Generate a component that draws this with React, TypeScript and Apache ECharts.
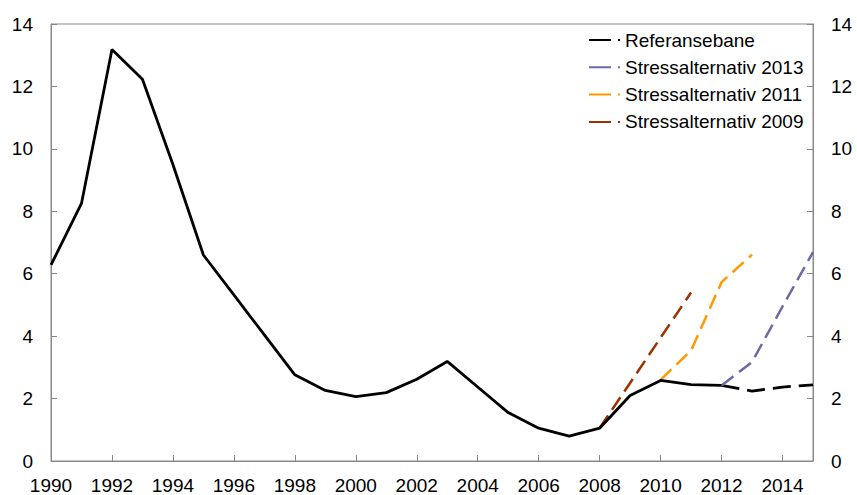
import React, { useEffect, useRef } from "react";
import * as echarts from "echarts";

const years = [
  "1990", "1991", "1992", "1993", "1994", "1995", "1996", "1997", "1998", "1999",
  "2000", "2001", "2002", "2003", "2004", "2005", "2006", "2007", "2008", "2009",
  "2010", "2011", "2012", "2013", "2014", "2015",
];

// Referansebane (historical + baseline)
const referanse = [
  6.28, 8.25, 13.18, 12.23, 9.5, 6.6, 5.32, 4.04, 2.76, 2.26,
  2.06, 2.19, 2.62, 3.19, 2.37, 1.55, 1.05, 0.8, 1.05, 2.1,
  2.58, 2.45, 2.42, 2.24, 2.37, 2.44,
];
const solidUntil = "2012";

const stress2013 = [
  null, null, null, null, null, null, null, null, null, null,
  null, null, null, null, null, null, null, null, null, null,
  null, null, 2.42, 3.17, 4.95, 6.69,
];
const stress2011 = [
  null, null, null, null, null, null, null, null, null, null,
  null, null, null, null, null, null, null, null, null, null,
  2.6, 3.54, 5.73, 6.61, null, null,
];
const stress2009 = [
  null, null, null, null, null, null, null, null, null, null,
  null, null, null, null, null, null, null, null, 1.06, 2.5,
  3.95, 5.4, null, null, null, null,
];

const yTicks = { min: 0, max: 14, interval: 2 };

const FONT = "Liberation Sans, Arial, sans-serif";
const AXIS_COLOR = "#888888";

export default function App() {
  const ref = useRef<HTMLDivElement>(null);

  useEffect(() => {
    if (!ref.current) return;
    const chart = echarts.init(ref.current, null, { renderer: "svg" });
    const cut = years.indexOf(solidUntil);
    const refSolid = referanse.map((v, i) => (i <= cut ? v : null));
    const refDashed = referanse.map((v, i) => (i >= cut ? v : null));

    const yAxisBase = (pos: "left" | "right") => ({
      type: "value",
      position: pos,
      min: yTicks.min,
      max: yTicks.max,
      interval: yTicks.interval,
      axisLine: { show: true, lineStyle: { color: AXIS_COLOR, width: 1 } },
      axisTick: { show: true, inside: true, length: 6, lineStyle: { color: AXIS_COLOR } },
      axisLabel: { color: "#000", fontSize: 19, fontFamily: FONT, margin: 18 },
      splitLine: { show: false },
    });

    const icon = "path://M0,0.5H22V2.5H0Z M29,0.5H31V2.5H29Z";

    chart.setOption({
      animation: false,
      backgroundColor: "#fff",
      textStyle: { fontFamily: FONT },
      grid: {
        left: 51,
        right: 44,
        top: 24,
        bottom: 34,
        show: true,
        borderColor: AXIS_COLOR,
        borderWidth: 1,
        containLabel: false,
      },
      legend: {
        orient: "vertical",
        left: 589,
        top: 30.5,
        padding: 0,
        icon,
        itemWidth: 31,
        itemHeight: 3,
        itemGap: 8.3,
        data: ["Referansebane", "Stressalternativ 2013", "Stressalternativ 2011", "Stressalternativ 2009"],
        textStyle: { color: "#000", fontSize: 19, fontFamily: FONT, lineHeight: 19 },
      },
      xAxis: {
        type: "category",
        data: years,
        boundaryGap: false,
        axisLine: { show: true, lineStyle: { color: AXIS_COLOR, width: 1 } },
        axisTick: { show: true, inside: true, length: 6, interval: 1, lineStyle: { color: AXIS_COLOR } },
        axisLabel: { color: "#000", fontSize: 19, fontFamily: FONT, margin: 15, interval: 1 },
        splitLine: { show: false },
      },
      yAxis: [yAxisBase("left"), yAxisBase("right")],
      series: [
        {
          name: "Stressalternativ 2009",
          type: "line",
          data: stress2009,
          showSymbol: false,
          symbol: "none",
          color: "#993300",
          lineStyle: { color: "#993300", width: 2.5, type: [15, 7] },
          z: 3,
        },
        {
          name: "Stressalternativ 2011",
          type: "line",
          data: stress2011,
          showSymbol: false,
          symbol: "none",
          color: "#FF9900",
          lineStyle: { color: "#FF9900", width: 2.5, type: [15, 7] },
          z: 3,
        },
        {
          name: "Stressalternativ 2013",
          type: "line",
          data: stress2013,
          showSymbol: false,
          symbol: "none",
          color: "#6B69A8",
          lineStyle: { color: "#6B69A8", width: 2.5, type: [15, 7] },
          z: 3,
        },
        {
          name: "Referansebane",
          type: "line",
          data: refSolid,
          showSymbol: false,
          symbol: "none",
          color: "#000",
          lineStyle: { color: "#000", width: 2.8 },
          z: 4,
        },
        {
          name: "Referansebane",
          type: "line",
          data: refDashed,
          showSymbol: false,
          symbol: "none",
          color: "#000",
          lineStyle: { color: "#000", width: 2.8, type: [18, 8] },
          z: 2,
        },
      ],
    });
    return () => chart.dispose();
  }, []);

  return (
    <div
      ref={ref}
      style={{ position: "fixed", left: 0, top: 0, width: 857, height: 495, background: "#fff" }}
    />
  );
}
